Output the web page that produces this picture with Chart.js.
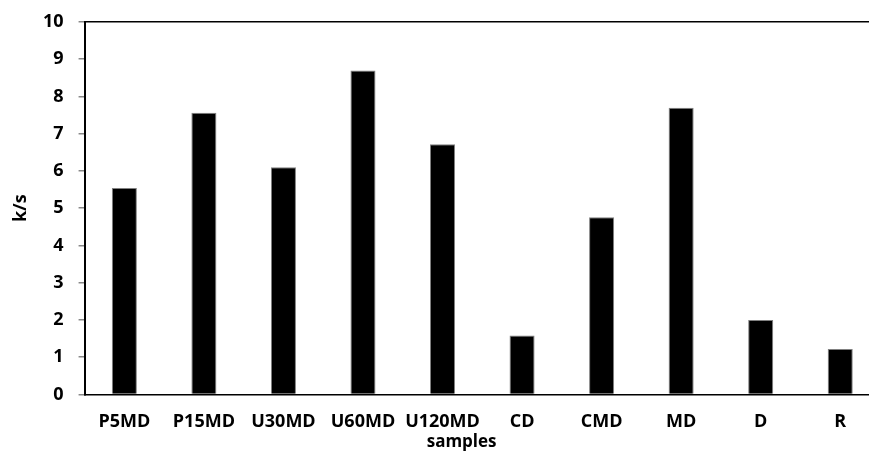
<!DOCTYPE html>
<html>
<head>
<meta charset="utf-8">
<script src="https://cdn.jsdelivr.net/npm/chart.js@4/dist/chart.umd.min.js"></script>
<style>
html,body{margin:0;padding:0;overflow:hidden;background:#fff;}
#wrap{width:880px;height:453px;}
</style>
</head>
<body>
<div id="wrap"><canvas id="c" width="880" height="453"></canvas></div>
<script>
const categories = ['P5MD','P15MD','U30MD','U60MD','U120MD','CD','CMD','MD','D','R'];
const ksValues = [5.54, 7.56, 6.10, 8.70, 6.72, 1.58, 4.76, 7.70, 2.00, 1.22];
const yTicks = [0,1,2,3,4,5,6,7,8,9,10];
const xTitle = 'samples';
const yTitle = 'k/s';

const FONT = '"Open Sans", sans-serif';

const titlePlugin = {
  id: 'titlePlugin',
  afterDraw(chart) {
    const ca = chart.chartArea;
    const ctx = chart.ctx;
    ctx.save();
    ctx.fillStyle = '#000';
    ctx.textAlign = 'center';
    ctx.textBaseline = 'middle';
    ctx.font = 'bold 17px ' + FONT;
    ctx.fillText(xTitle, ca.left + (ca.right - ca.left) * 0.474, ca.bottom + 48);
    ctx.translate(ca.left - 64, (ca.top + ca.bottom) / 2);
    ctx.rotate(-Math.PI / 2);
    ctx.font = 'bold 18px ' + FONT;
    ctx.fillText(yTitle, 0, 0);
    ctx.restore();
  }
};

new Chart(document.getElementById('c'), {
  type: 'bar',
  data: {
    labels: categories,
    datasets: [{
      data: ksValues,
      backgroundColor: '#000',
      borderColor: '#808080',
      borderWidth: 1,
      barPercentage: 0.315,
      categoryPercentage: 1.0
    }]
  },
  options: {
    responsive: false,
    animation: false,
    devicePixelRatio: 1,
    layout: { padding: { top: 22, right: 0, bottom: 3, left: 28 } },
    plugins: { legend: { display: false }, tooltip: { enabled: false } },
    scales: {
      x: {
        grid: { display: false, drawTicks: false },
        border: { display: true, color: '#000', width: 1.5 },
        ticks: { color: '#000', font: { family: FONT, size: 18, weight: 'bold' }, padding: 17, maxRotation: 0, autoSkip: false }
      },
      y: {
        min: 0, max: 10,
        afterBuildTicks(scale) { scale.ticks = yTicks.map(v => ({ value: v })); },
        afterFit(scale) { scale.paddingTop = 0; scale.paddingBottom = 0; },
        grid: {
          drawOnChartArea: true,
          color: (c) => (c.tick && c.tick.value === 10) ? '#000' : 'rgba(0,0,0,0)',
          lineWidth: 1.5,
          tickColor: '#888',
          tickLength: 6
        },
        border: { display: true, color: '#000', width: 2 },
        ticks: { color: '#000', font: { family: FONT, size: 18, weight: 'bold' }, padding: 15 },
        title: { display: false }
      }
    }
  },
  plugins: [titlePlugin]
});
</script>
</body>
</html>
